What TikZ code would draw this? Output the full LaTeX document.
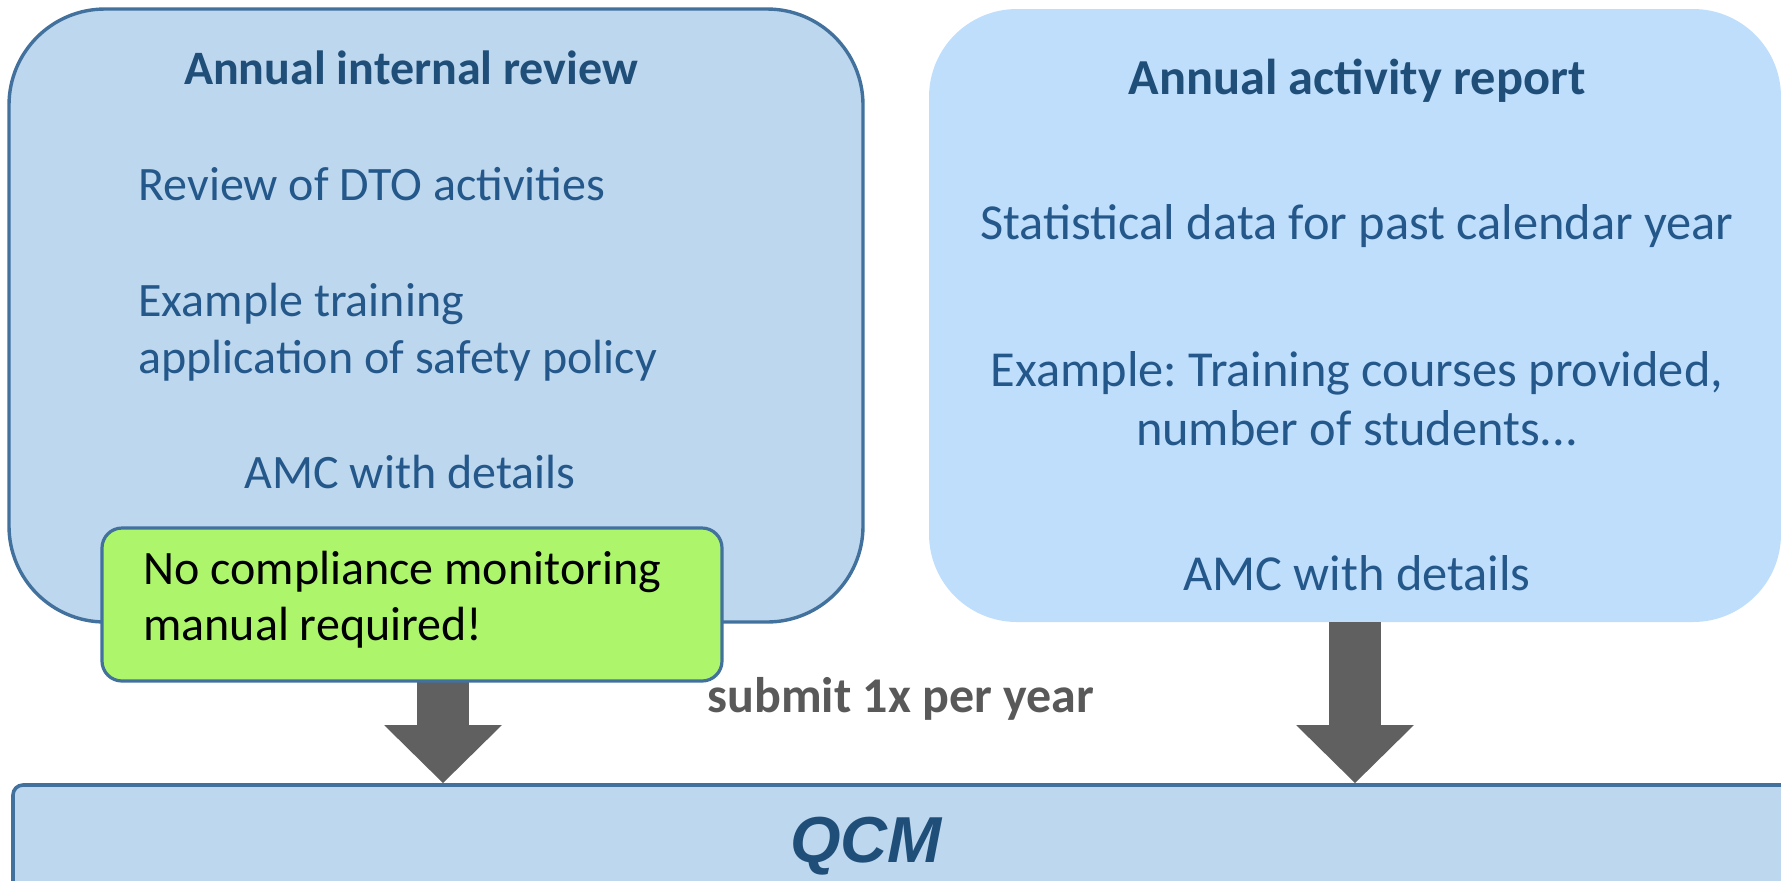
\documentclass[tikz,border=0pt]{standalone}
\usepackage{fontspec}
\setmainfont{Carlito}
\newfontfamily\qcmfont{Liberation Sans}
\usetikzlibrary{arrows.meta}
\definecolor{boxfill}{HTML}{BDD7EE}
\definecolor{boxline}{HTML}{41719C}
\definecolor{reportfill}{HTML}{BFDEFC}
\definecolor{notefill}{HTML}{ADF56A}
\definecolor{headblue}{HTML}{1F4E79}
\definecolor{bodyblue}{HTML}{24588A}
\definecolor{arrowgrey}{HTML}{606060}
\definecolor{labelgrey}{HTML}{595959}
\frenchspacing
\begin{document}
\begin{tikzpicture}
[x=0.5pt,y=-0.5pt,
  boxdecorate/.style={draw=boxline,line width=1.7pt,fill=boxfill,rounded corners=48pt,inner sep=0pt},
  reportdecorate/.style={fill=reportfill,rounded corners=44pt,inner sep=0pt},
  notedecorate/.style={draw=boxline,line width=1.6pt,fill=notefill,rounded corners=10pt,inner sep=0pt},
  qcmdecorate/.style={draw=boxline,line width=1.8pt,fill=boxfill,rounded corners=5pt,inner sep=0pt},
  headdecorate/.style={inner sep=0pt,text=headblue,font=\fontsize{24}{29}\selectfont\bfseries},
  textdecorate/.style={inner sep=0pt,text=bodyblue,font=\fontsize{24}{29}\selectfont},
  reporttext/.style={textdecorate,font=\fontsize{25.2}{30}\selectfont},
  notetext/.style={inner sep=0pt,text=black,font=\fontsize{24}{29}\selectfont},
  arrowdecorate/.style={draw=arrowgrey,line width=26pt,-{Triangle[length=29pt,width=57pt]}}]
\useasboundingbox (0,0) rectangle (1781,880);
%% boxes
\node (irev) at (436,315.5) [boxdecorate,minimum width=427pt,minimum height=306.5pt] {};
\node (arep) at (1355,315.5) [reportdecorate,minimum width=426pt,minimum height=306.5pt] {};
\node (qcm) at (906.5,842.5) [qcmdecorate,minimum width=893.5pt,minimum height=57.5pt] {};
\coordinate (leftdrop) at (443,0);
%% arrows
\draw[arrowdecorate] (irev.south -| leftdrop) -- (qcm.north -| leftdrop);
\draw[arrowdecorate] (arep.south) -- (arep.south |- qcm.north);
\node (note) at (412,604.5) [notedecorate,minimum width=310pt,minimum height=76.5pt] {};
%% texts of the internal review
\node (irevtitle) at (411,84) [headdecorate,anchor=base] {Annual internal review};
\foreach \nodename/\x/\y/\txt in {irevone/138/200/{Review of DTO activities},
    irevtwo/138/316/{Example training}, irevthree/138/373/{application of safety policy}} {
  \node (\nodename) at (\x,\y) [textdecorate,anchor=base west] {\txt};
}
\node (irevamc) at (410,488) [textdecorate,anchor=base] {AMC with details};
%% texts of the activity report
\node (areptitle) at (1357,94) [headdecorate,font=\fontsize{25.2}{30}\selectfont\bfseries,anchor=base] {Annual activity report};
\foreach \nodename/\y/\txt in {arepone/239/{Statistical data for past calendar year},
    areptwo/386/{Example: Training courses provided,}, arepthree/445/{number of students...},
    arepamc/590/{AMC with details}} {
  \node (\nodename) at (1357,\y) [reporttext,anchor=base] {\txt};
}
%% note and labels
\node (noteone) at (143,584) [notetext,anchor=base west] {No compliance monitoring};
\node (notetwo) at (143,640) [notetext,anchor=base west] {manual required!};
\node (submit) at (901,712) [anchor=base,inner sep=0pt,text=labelgrey,font=\fontsize{25}{30}\selectfont\bfseries] {submit 1x per year};
\node (qcmlabel) at (866,862) [anchor=base,inner sep=0pt,text=headblue,font=\qcmfont\fontsize{32.5}{38}\selectfont\bfseries\itshape] {QCM};
\end{tikzpicture}
\end{document}
